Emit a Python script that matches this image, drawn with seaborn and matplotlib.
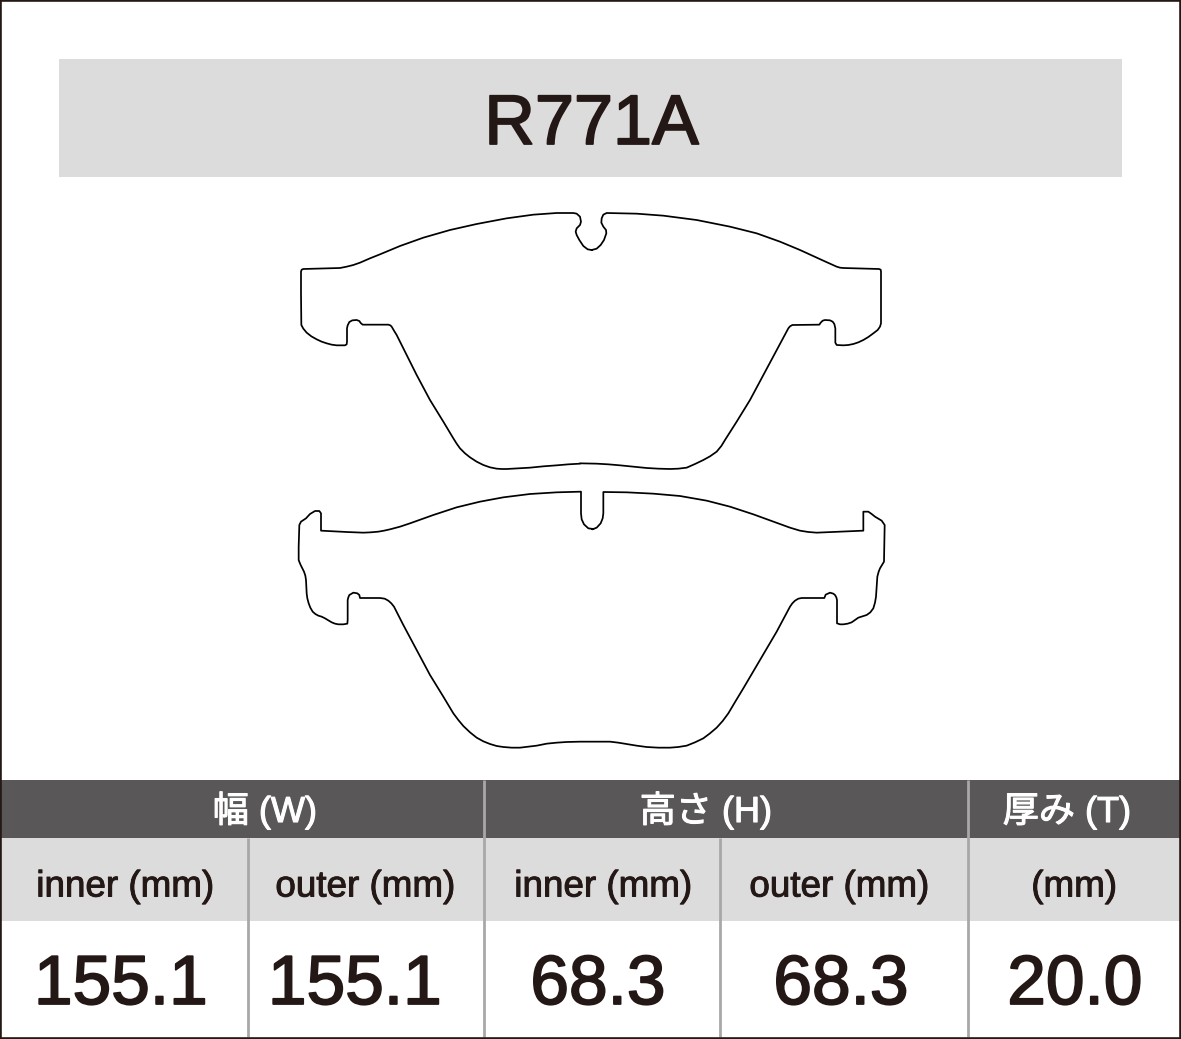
"""
Brake pad outline sheet: two traced pad shapes above a size table.
"""

import numpy as np
import pandas as pd
import matplotlib.pyplot as plt
import matplotlib.patheffects as pe
from matplotlib.patches import Rectangle
import seaborn as sns

PART_NO = "R771A"

# table content
GROUP_LABELS = ["幅 (W)", "高さ (H)", "厚み (T)"]
COLUMN_LABELS = ["inner (mm)", "outer (mm)", "inner (mm)", "outer (mm)", "(mm)"]
COLUMN_VALUES = [155.1, 155.1, 68.3, 68.3, 20.0]

UPPER_LEFT = [
    (905, 150), (893, 148), (880, 138), (868, 120), (860, 105), (857, 95), (860, 85), (870, 75),
    (873, 65), (870, 50), (860, 41), (850, 39), (800, 39), (730, 44), (650, 55), (560, 72),
    (480, 90), (400, 113), (330, 138), (270, 163), (240, 175), (210, 188), (190, 195), (170, 200),
    (150, 204), (40, 207), (35, 209), (33, 215), (33, 280), (34, 375), (40, 386), (50, 398),
    (64, 409), (80, 418), (95, 425), (110, 430), (125, 434), (140, 436), (165, 436), (170, 433),
    (171, 425), (171, 385), (173, 376), (178, 366), (187, 361), (200, 360), (208, 363), (212, 369),
    (218, 374), (295, 374), (301, 376), (305, 380), (312, 392), (320, 405), (350, 465), (380, 525),
    (420, 600), (460, 665), (490, 715), (500, 731), (510, 745), (525, 760), (540, 772), (560, 785),
    (580, 795), (600, 802), (620, 806), (635, 807), (650, 807), (685, 805), (720, 803), (760, 799),
    (800, 796), (835, 793), (870, 791),
]
UPPER_RIGHT = [
    (0, 790), (50, 791), (85, 793), (120, 796), (160, 800), (200, 804), (235, 806), (270, 807),
    (295, 806), (320, 803), (345, 792), (370, 780), (390, 769), (410, 755), (424, 738), (435, 720),
    (470, 665), (510, 600), (550, 525), (590, 450), (625, 385), (630, 379), (637, 375), (718, 374),
    (722, 368), (728, 362), (735, 360), (750, 361), (758, 365), (763, 372), (766, 385), (766, 428),
    (770, 435), (790, 436), (805, 435), (820, 432), (835, 427), (850, 420), (865, 411), (880, 400),
    (893, 390), (900, 380), (903, 370), (903, 215), (902, 209), (897, 207), (790, 204), (780, 203),
    (770, 200), (750, 191), (730, 182), (660, 150), (600, 125), (530, 100), (450, 80), (350, 60),
    (250, 47), (170, 41), (80, 39), (70, 44), (65, 55), (64, 68), (70, 80), (78, 90), (79, 100),
    (72, 120), (62, 135), (50, 146), (35, 150),
]
LOWER_LEFT = [
    (910, 147), (895, 145), (882, 133), (875, 118), (873, 100), (873, 35), (800, 37), (720, 42),
    (640, 52), (570, 65), (500, 82), (430, 105), (360, 130), (330, 140), (300, 148), (282, 152),
    (265, 155), (242, 157), (220, 158), (170, 156), (93, 152), (93, 100), (88, 93), (75, 93),
    (60, 102), (48, 115), (33, 125), (28, 135), (26, 200), (26, 240), (29, 248), (32, 255),
    (37, 265), (42, 275), (46, 287), (48, 300), (49, 320), (50, 340), (52, 355), (56, 370),
    (61, 383), (68, 395), (76, 402), (85, 407), (95, 410), (105, 415), (115, 421), (125, 427),
    (135, 431), (145, 433), (160, 433), (172, 431), (173, 420), (173, 360), (175, 352), (178, 345),
    (190, 338), (202, 340), (208, 345), (210, 354), (270, 354), (284, 356), (295, 362), (304, 370),
    (312, 380), (340, 435), (380, 510), (420, 585), (460, 650), (490, 700), (505, 720), (520, 738),
    (540, 757), (560, 773), (580, 784), (600, 792), (620, 798), (640, 801), (665, 803), (690, 803),
    (715, 800), (740, 797), (770, 791), (800, 788), (830, 786), (860, 785),
]
LOWER_RIGHT = [
    (0, 785), (50, 785), (90, 785), (115, 788), (140, 792), (170, 797), (200, 801), (235, 803),
    (270, 803), (295, 801), (320, 797), (345, 787), (370, 775), (390, 760), (410, 743), (428, 723),
    (445, 700), (467, 663), (490, 625), (540, 540), (590, 455), (630, 380), (637, 370), (645, 362),
    (655, 356), (665, 354), (733, 354), (737, 344), (750, 338), (760, 341), (765, 345), (769, 352),
    (771, 360), (771, 430), (780, 433), (790, 433), (803, 431), (815, 427), (825, 420), (835, 413),
    (848, 409), (860, 405), (871, 397), (880, 385), (885, 368), (888, 350), (890, 320), (892, 290),
    (896, 275), (900, 265), (906, 255), (912, 245), (914, 135), (905, 122), (895, 116), (885, 110),
    (875, 102), (865, 95), (850, 95), (850, 152), (780, 155), (710, 158), (685, 156), (660, 152),
    (630, 143), (600, 132), (520, 103), (450, 80), (380, 62), (300, 48), (220, 41), (140, 37),
    (70, 36), (70, 100), (68, 115), (62, 130), (50, 143), (37, 148),
]

INK = "#231815"
DARK_BAND = "#595757"
LIGHT_BAND = "#dcdcdc"
SEPARATOR = "#a8a8a8"


def crop_to_page(points, left, top):
    """Turn crop pixels into page pixels."""
    pts = np.array(points, dtype=float)
    return pd.DataFrame({"x": left + pts[:, 0] / 3, "y": top + pts[:, 1] / 3})


def draw_pad(ax, left_half, right_half, top):
    outline = pd.concat([
        crop_to_page(left_half, 290, top),
        crop_to_page(right_half, 580, top),
    ], ignore_index=True)
    outline = pd.concat([outline, outline.iloc[:1]], ignore_index=True)
    sns.lineplot(data=outline, x="x", y="y", estimator=None, sort=False, errorbar=None,
                 color="black", linewidth=1.25, solid_joinstyle="round", ax=ax, legend=False)


sns.set_theme(style="white")
plt.rcParams["font.family"] = ["Liberation Sans", "Noto Sans CJK JP"]

fig = plt.figure(figsize=(11.81, 10.39), dpi=100)
ax = fig.add_axes([0, 0, 1, 1])

# title band
ax.add_patch(Rectangle((59, 59), 1063, 118, color=LIGHT_BAND, lw=0))
ax.text(591.5, 144, PART_NO, ha="center", va="baseline", fontsize=50.5, color=INK,
        path_effects=[pe.withStroke(linewidth=1.3, foreground=INK)])

draw_pad(ax, UPPER_LEFT, UPPER_RIGHT, 200)
draw_pad(ax, LOWER_LEFT, LOWER_RIGHT, 480)

# table bands
ax.add_patch(Rectangle((0, 780), 1181, 58, color=DARK_BAND, lw=0))
ax.add_patch(Rectangle((0, 838), 1181, 83, color=LIGHT_BAND, lw=0))
ax.vlines([484, 968], 780, 1037, color=SEPARATOR, lw=2.0)
ax.vlines([247.5, 720], 838, 1037, color=SEPARATOR, lw=2.0)

for label, cx in zip(GROUP_LABELS, [265, 706, 1067]):
    ax.text(cx, 822, label, ha="center", va="baseline", fontsize=26, color="white",
            path_effects=[pe.withStroke(linewidth=0.8, foreground="white")])

for label, cx in zip(COLUMN_LABELS, [125, 365, 603, 839, 1074]):
    ax.text(cx, 896.5, label, ha="center", va="baseline", fontsize=26.5, color=INK,
            family="Liberation Sans",
            path_effects=[pe.withStroke(linewidth=0.7, foreground=INK)])

for value, cx in zip(COLUMN_VALUES, [121, 355, 598, 841, 1075]):
    ax.text(cx, 1004, f"{value:.1f}", ha="center", va="baseline", fontsize=50, color=INK,
            path_effects=[pe.withStroke(linewidth=1.3, foreground=INK)])

# page frame
ax.set_xlim(0, 1181)
ax.set_ylim(1039, 0)
ax.set_xticks([])
ax.set_yticks([])
ax.set_xlabel("")
ax.set_ylabel("")
for spine in ax.spines.values():
    spine.set_color(INK)
    spine.set_linewidth(2.6)

fig.savefig("out.png", dpi=100)
plt.close(fig)
